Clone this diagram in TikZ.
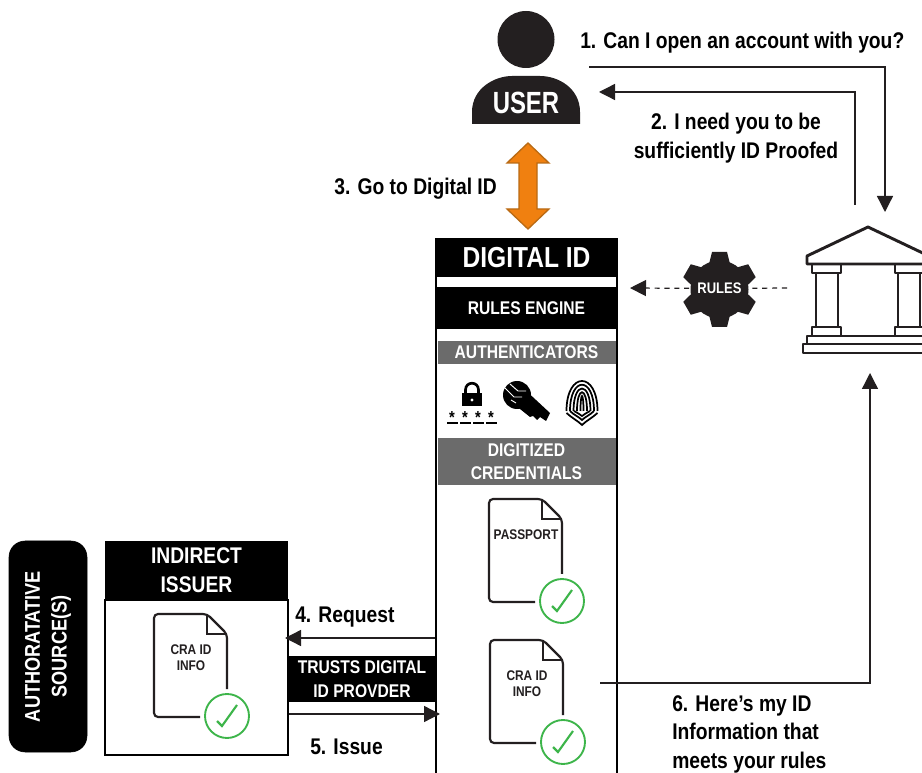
\documentclass[tikz,border=0pt]{standalone}
\usepackage{fontspec}
\setmainfont{Liberation Sans}[FakeStretch=0.85]
\newfontfamily\usrfont{Liberation Sans}[FakeStretch=0.78]
\usetikzlibrary{arrows.meta}
\def\px{.75pt}
\definecolor{ink}{HTML}{231F20}
\definecolor{barmid}{HTML}{6B6B6B}
\definecolor{okgreen}{HTML}{3DB54A}
\definecolor{moveorange}{HTML}{F08010}
\definecolor{moveedge}{HTML}{B96A14}
\tikzstyle{flow} = [line width=1pt,ink,-{Triangle[length=12pt,width=12pt]}]
\tikzstyle{rulesflow} = [line width=.9pt,ink,dash pattern=on 3.8pt off 3.6pt]
\tikzstyle{steplabel} = [inner sep=0pt,align=center,font=\fontsize{17}{21.5}\selectfont\bfseries]
\tikzstyle{bar} = [fill=black,text=white,inner sep=0pt,align=center,font=\fontsize{13.8}{17}\selectfont\bfseries]
\tikzstyle{bankline} = [line width=2.2pt,ink,line join=round]
\tikzset{
  docicon/.pic={
    \draw[line width=1.6pt,ink,rounded corners=3pt] (73,75) -- (73,20) -- (53,0) -- (0,0) -- (0,103) -- (46,103);
    \draw[line width=1.3pt,ink] (53,0) -- (53,20) -- (73,20);
    \draw[line width=1.4pt,okgreen] (73,102) circle (22);
    \draw[line width=1.6pt,okgreen] (63,107) -- (68,112) -- (83,91);
    \node[inner sep=0pt,align=center,ink,font=\fontsize{10.5}{12}\selectfont\bfseries,anchor=north] at (37,30) {\tikzpictext};
  }
}
\begin{document}
\begin{tikzpicture}[x=.75pt,y=-.75pt]
      \path[use as bounding box,clip] (0,0) rectangle (922,773);
      \fill[ink]           (526,39.5) circle (28.5);
      \fill[ink]           (472,124) -- (472,112) .. controls (472,88) and (495,76) .. (512,76) -- (540,76) .. controls (558,76) and (580,88) .. (580,112) -- (580,124) -- cycle;
      \node[inner sep=0pt,white,font=\fontsize{23}{23}\usrfont\bfseries] (user) at (526,103) {USER};
      \draw[line width=1pt,moveedge,fill=moveorange] (528,143) -- (549,163) -- (537,163) -- (537,209) -- (549,209) -- (528,229) -- (507,209) -- (519,209) -- (519,163) -- (507,163) -- cycle;
      \node[steplabel,anchor=east]  (golabel) at (497,189) {3. Go to Digital ID};
      \node[steplabel,anchor=west]  (asklabel) at (580,43) {1. Can I open an account with you?};
      \node[steplabel]              (needlabel) at (736,138) {2. I need you to be\\sufficiently ID Proofed};
      \node[steplabel,anchor=north west,align=left] (herelabel) at (672,695) {6. Here’s my ID\\Information that\\meets your rules};
      \node[steplabel,anchor=west]  (reqlabel) at (295,617) {4. Request};
      \node[steplabel,anchor=west]  (issuelabel) at (310,747) {5. Issue};

      \coordinate (askfrom)  at (589,67);
      \coordinate (askto)    at (885,212);
      \coordinate (needfrom) at (855,205);
      \coordinate (needto)   at (599,92);
      \coordinate (rulesto)  at (630,288);
      \coordinate (rulesfrom) at (787,288);
      \coordinate (infofrom) at (600,683);
      \coordinate (infoto)   at (870,373);
      \coordinate (reqto)    at (285,638);
      \coordinate (issuefrom) at (289,714);
      \coordinate (issueto)  at (440,714);

      \draw[flow] (askfrom) -| (askto);
      \draw[flow] (needfrom) |- (needto);

      \foreach \a in {30,90,150,210,270,330}
        \fill[ink,rotate around={\a:(719.5,289.5)}] (745,279) -- (757,282) -- (757,297) -- (745,300) -- cycle;
      \fill[ink] (719.5,289.5) circle (29);
      \node[inner sep=0pt,white,minimum size=45pt,font=\fontsize{11.5}{12}\selectfont\bfseries] (rulesgear) at (719.5,288.5) {RULES};
      \draw[rulesflow] (rulesfrom) -- (rulesgear);
      \draw[rulesflow,-{Triangle[length=12pt,width=12pt]}] (rulesgear) -- (rulesto);

      \draw[bankline] (807,264) -- (807,256) -- (868,227) -- (929,256) -- (929,264) -- cycle;
      \draw[bankline] (812,264) rectangle (841,273);
      \draw[bankline] (816,273) rectangle (838,327);
      \draw[bankline] (812,327) rectangle (841,336);
      \draw[bankline] (895,264) rectangle (924,273);
      \draw[bankline] (898,273) rectangle (920,327);
      \draw[bankline] (895,327) rectangle (924,336);
      \draw[bankline] (807,336) rectangle (929,344);
      \draw[bankline] (803,344) rectangle (933,353);

      \node[draw=black,line width=2.2pt,fill=white,inner sep=0pt,minimum width=181*\px,minimum height=551*\px] (digitalid) at (526.5,514.5) {};
      \node[bar,minimum width=181*\px,minimum height=38*\px,font=\fontsize{21.7}{22}\selectfont\bfseries] (idhead) at (526.5,258) {DIGITAL ID};
      \node[bar,minimum width=181*\px,minimum height=42*\px] (rulesengine) at (526.5,308) {RULES ENGINE};
      \node[bar,fill=barmid,minimum width=178*\px,minimum height=23*\px] (authbar) at (526.5,352.5) {AUTHENTICATORS};
      \node[bar,fill=barmid,minimum width=178*\px,minimum height=47*\px] (credbar) at (526.5,461.5) {DIGITIZED\\CREDENTIALS};

      \fill[black] (462,393) rectangle (482,406);
      \draw[line width=2pt,black] (465.5,394) -- (465.5,390) .. controls (465.5,381) and (478.5,381) .. (478.5,390) -- (478.5,394);
      \fill[white] (472,400) circle (1.6);
      \foreach \x in {452,465,478,491} {
        \node[inner sep=0pt,font=\fontsize{13}{13}\selectfont\bfseries] at (\x,418) {*};
        \fill[black] (\x-5.5,422.5) rectangle (\x+5.5,424);
      }

      \fill[black] (517,395) circle (14);
      \fill[black] (522,387) -- (550,413) -- (546,421) -- (540,417) -- (537,420) -- (533,416) -- (530,417) -- (510,401) -- cycle;
      \draw[line width=.7pt,white] (505,388) -- (514,397) -- (522,397);
      \draw[line width=.7pt,white] (510,384) -- (518,391) -- (526,391);
      \draw[line width=.7pt,white] (511,400) -- (516,403);

      \foreach \r/\t in {15.5/371,12/376,8.5/381,5/386,1.5/391}
        \draw[line width=1.3pt,black] (582-\r,411) .. controls (582-\r,\t) and (582+\r,\t) .. (582+\r,411);
      \draw[line width=1.3pt,black] (566.5,413) .. controls (572,418) and (578,421) .. (582,425) .. controls (586,421) and (592,418) .. (597.5,413);
      \draw[line width=1.3pt,black] (570,411) .. controls (574,415) and (579,417) .. (582,420) .. controls (585,417) and (590,415) .. (594,411);
      \draw[line width=1.3pt,black] (574,411) .. controls (577,413) and (580,414) .. (582,416) .. controls (584,414) and (587,413) .. (590,411);

      \pic[pic text={PASSPORT}] at (489,499) {docicon};
      \pic[pic text={CRA ID\\INFO}] at (490,640) {docicon};
      \draw[flow] (infofrom) -| (infoto);

      \node[fill=black,draw=black,rounded corners=12pt,rotate=90,inner sep=0pt,text=white,align=center,minimum width=211*\px,minimum height=78*\px,font=\fontsize{16}{20}\selectfont\bfseries] (authsource) at (48,646.5) {AUTHORATATIVE\\SOURCE(S)};
      \node[draw=black,line width=2.2pt,fill=white,inner sep=0pt,minimum width=183*\px,minimum height=155*\px] (issuer) at (196.5,677.5) {};
      \node[bar,minimum width=183*\px,minimum height=59*\px,font=\fontsize{17}{21.5}\selectfont\bfseries] (issuerhead) at (196.5,570.5) {INDIRECT\\ISSUER};
      \pic[pic text={CRA ID\\INFO}] at (154,614) {docicon};

      \node[bar,minimum width=149*\px,minimum height=46*\px,font=\fontsize{13.8}{17.5}\selectfont\bfseries] (trustbar) at (362,679) {TRUSTS DIGITAL\\ID PROVDER};
      \draw[flow] (digitalid.west |- reqto) -- (reqto);
      \draw[flow] (issuefrom) -- (issueto);
\end{tikzpicture}
\end{document}
